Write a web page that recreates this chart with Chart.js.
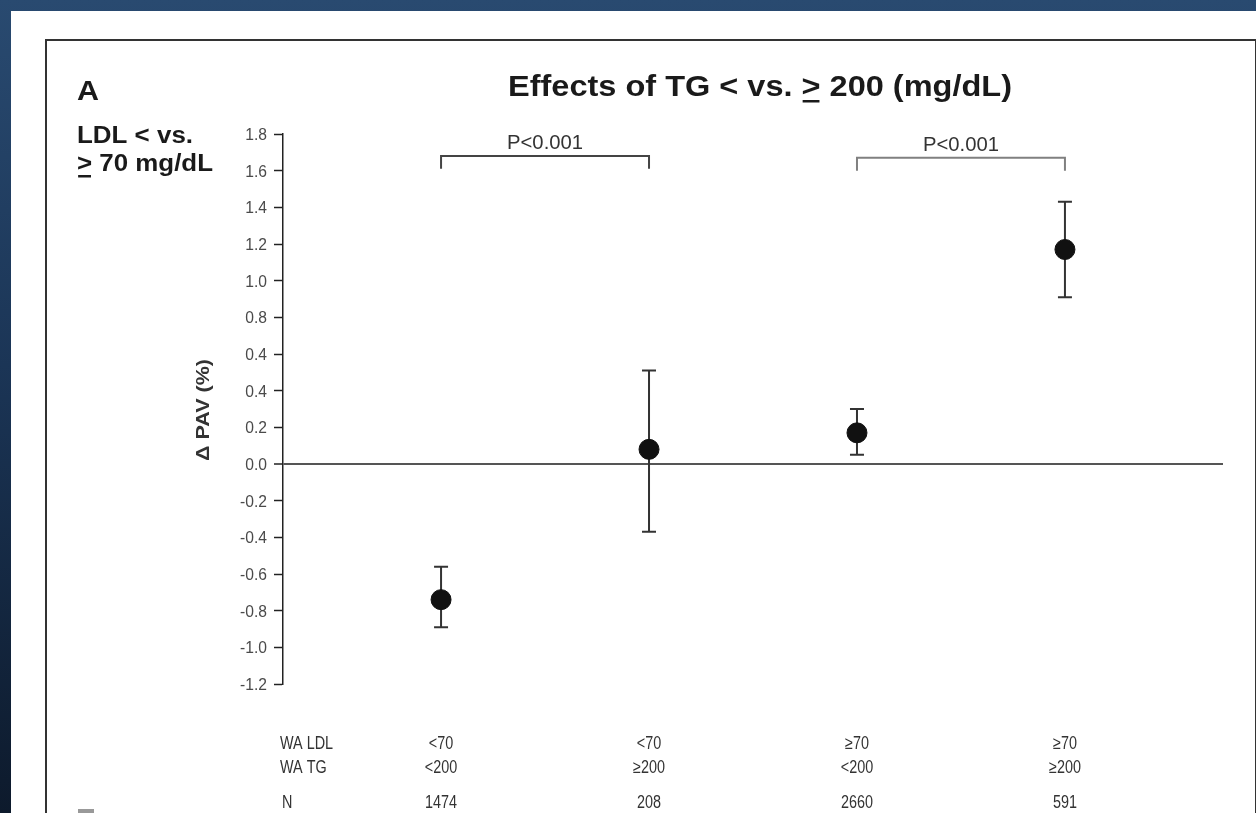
<!DOCTYPE html>
<html>
<head>
<meta charset="utf-8">
<script src="https://cdn.jsdelivr.net/npm/chart.js@4"></script>
<style>
  html, body { margin: 0; padding: 0; }
  body {
    width: 1256px; height: 813px; overflow: hidden; position: relative;
    background: linear-gradient(180deg, #294a70 0%, #1b3556 45%, #0d1a2c 100%);
  }
  #panel {
    position: absolute; left: 11px; top: 11px; width: 1245px; height: 802px;
    background: #fff;
  }
  #frame {
    position: absolute; left: 45px; top: 39px; width: 1208px; height: 800px;
    border: 2px solid #333; border-bottom: none;
  }
  #nextPanel {
    position: absolute; left: 78px; top: 809px; width: 16px; height: 4px; background: #999;
  }
  #chart { position: absolute; left: 0; top: 0; }
</style>
</head>
<body>
<div id="panel"></div>
<div id="frame"></div>
<div id="nextPanel"></div>
<canvas id="chart" width="1256" height="813"></canvas>
<script>
// group positions on the x axis and their mean change in PAV with 95% CI
const groupX = [1, 2, 3, 4];
const meanPAV = [-0.74, 0.08, 0.17, 1.17];
const ciLower = [-0.89, -0.37, 0.05, 0.91];
const ciUpper = [-0.56, 0.51, 0.30, 1.43];

// table under the plot
const waLdl = ['<70', '<70', '≥70', '≥70'];
const waTg = ['<200', '≥200', '<200', '≥200'];
const nCounts = ['1474', '208', '2660', '591'];

// y axis ticks (label at 0.6 is printed as 0.4 in the figure)
const yTickValues = [-1.2, -1.0, -0.8, -0.6, -0.4, -0.2, 0.0, 0.2, 0.4, 0.6, 0.8, 1.0, 1.2, 1.4, 1.6, 1.8];
const yTickLabels = ['-1.2', '-1.0', '-0.8', '-0.6', '-0.4', '-0.2', '0.0', '0.2', '0.4', '0.4', '0.8', '1.0', '1.2', '1.4', '1.6', '1.8'];

// significance brackets
const bracketPairs = [[1, 2], [3, 4]];
const bracketTop = [1.68, 1.67];
const bracketFoot = [1.61, 1.60];
const bracketText = ['P<0.001', 'P<0.001'];

const FONT = '"Liberation Sans", Arial, sans-serif';
const NARROW = 0.8; // figure text is horizontally condensed

function bracketDataset(i) {
  const [a, b] = bracketPairs[i];
  return {
    type: 'line',
    data: [
      { x: a, y: bracketFoot[i] }, { x: a, y: bracketTop[i] },
      { x: b, y: bracketTop[i] }, { x: b, y: bracketFoot[i] }
    ],
    borderColor: i === 0 ? '#444' : '#808080',
    borderWidth: 2,
    pointRadius: 0,
    tension: 0,
    fill: false
  };
}

// draw a string squeezed to a given width, with optional underlined parts
function fitText(ctx, parts, x, y, width) {
  const full = parts.map(p => p.t).join('');
  const w = ctx.measureText(full).width;
  ctx.save();
  ctx.translate(x, y);
  ctx.scale(width / w, 1);
  let cx = 0;
  parts.forEach(p => {
    ctx.fillText(p.t, cx, 0);
    const pw = ctx.measureText(p.t).width;
    if (p.u) ctx.fillRect(cx + 1, 4, pw - 2, 2.5);
    cx += pw;
  });
  ctx.restore();
}

// condensed text placed left, centre or right of x
function narrowText(ctx, t, x, y, align, squeeze = NARROW) {
  const w = ctx.measureText(t).width * squeeze;
  const left = align === 'right' ? x - w : align === 'center' ? x - w / 2 : x;
  fitText(ctx, [{ t }], left, y, w);
}

const errorBars = {
  id: 'errorBars',
  beforeDatasetsDraw(chart) {
    const { ctx, scales: { x, y } } = chart;
    ctx.save();
    ctx.strokeStyle = '#333';
    ctx.lineWidth = 2;
    groupX.forEach((gx, i) => {
      const px = x.getPixelForValue(gx);
      const top = y.getPixelForValue(ciUpper[i]);
      const bot = y.getPixelForValue(ciLower[i]);
      ctx.beginPath();
      ctx.moveTo(px, top); ctx.lineTo(px, bot);
      ctx.moveTo(px - 7, top); ctx.lineTo(px + 7, top);
      ctx.moveTo(px - 7, bot); ctx.lineTo(px + 7, bot);
      ctx.stroke();
    });
    ctx.restore();
  }
};

const annotations = {
  id: 'annotations',
  afterDraw(chart) {
    const { ctx, scales: { x, y } } = chart;
    ctx.save();
    ctx.textBaseline = 'alphabetic';
    ctx.textAlign = 'left';

    // panel letter, title and row heading
    ctx.fillStyle = '#1a1a1a';
    ctx.font = 'bold 28px ' + FONT;
    fitText(ctx, [{ t: 'A' }], 77, 100, 22);
    ctx.font = 'bold 30px ' + FONT;
    fitText(ctx, [{ t: 'Effects of TG < vs. ' }, { t: '>', u: true }, { t: ' 200 (mg/dL)' }], 508, 96, 504);
    ctx.font = 'bold 23px ' + FONT;
    fitText(ctx, [{ t: 'LDL < vs.' }], 77, 143, 116);
    fitText(ctx, [{ t: '>', u: true }, { t: ' 70 mg/dL' }], 77, 171, 136);

    // y tick labels
    ctx.fillStyle = '#4a4a4a';
    ctx.font = '17px ' + FONT;
    y.ticks.forEach((tk, i) => {
      narrowText(ctx, yTickLabels[i], y.right - 16, y.getPixelForValue(tk.value) + 6, 'right', 0.92);
    });

    // y axis title
    ctx.save();
    ctx.translate(209, 410);
    ctx.rotate(-Math.PI / 2);
    ctx.font = 'bold 18px ' + FONT;
    ctx.fillStyle = '#333';
    fitText(ctx, [{ t: '\u0394 PAV (%)' }], -51, 0, 102);
    ctx.restore();

    // p-values over the brackets
    ctx.fillStyle = '#333';
    ctx.font = '21px ' + FONT;
    bracketPairs.forEach(([a, b], i) => {
      const cx = (x.getPixelForValue(a) + x.getPixelForValue(b)) / 2;
      const py = y.getPixelForValue(bracketTop[i]) - 7;
      fitText(ctx, [{ t: bracketText[i] }], cx - 38, py, 76);
    });

    // group table
    ctx.font = '18px ' + FONT;
    ctx.fillStyle = '#333';
    const rowY = [749, 773, 808];
    narrowText(ctx, 'WA LDL', 280, rowY[0], 'left');
    narrowText(ctx, 'WA TG', 280, rowY[1], 'left');
    narrowText(ctx, 'N', 282, rowY[2], 'left');
    [waLdl, waTg, nCounts].forEach((vals, r) => {
      vals.forEach((v, i) => {
        narrowText(ctx, v, x.getPixelForValue(groupX[i]), rowY[r], 'center');
      });
    });
    ctx.restore();
  }
};

new Chart(document.getElementById('chart'), {
  type: 'scatter',
  data: {
    datasets: [
      {
        data: groupX.map((gx, i) => ({ x: gx, y: meanPAV[i] })),
        backgroundColor: '#111',
        borderColor: '#111',
        pointRadius: 10,
        pointHoverRadius: 10
      },
      bracketDataset(0),
      bracketDataset(1)
    ]
  },
  options: {
    responsive: false,
    animation: false,
    layout: { padding: { left: 213, top: 134, right: 33, bottom: 129 } },
    plugins: {
      legend: { display: false },
      tooltip: { enabled: false }
    },
    scales: {
      x: { type: 'linear', min: 0.24, max: 4.76, display: false },
      y: {
        min: -1.2,
        max: 1.8,
        afterFit: (s) => { s.width = 70; },
        afterBuildTicks: (s) => { s.ticks = yTickValues.map(v => ({ value: v })); },
        border: { display: true, color: '#222', width: 1.5 },
        grid: {
          color: (c) => (c.tick && Math.abs(c.tick.value) < 1e-9 ? '#555' : 'rgba(0,0,0,0)'),
          lineWidth: (c) => (c.tick && Math.abs(c.tick.value) < 1e-9 ? 2 : 1),
          tickColor: '#222',
          tickLength: 9,
          tickWidth: 1.5
        },
        ticks: { display: false }
      }
    }
  },
  plugins: [errorBars, annotations]
});
</script>
</body>
</html>
